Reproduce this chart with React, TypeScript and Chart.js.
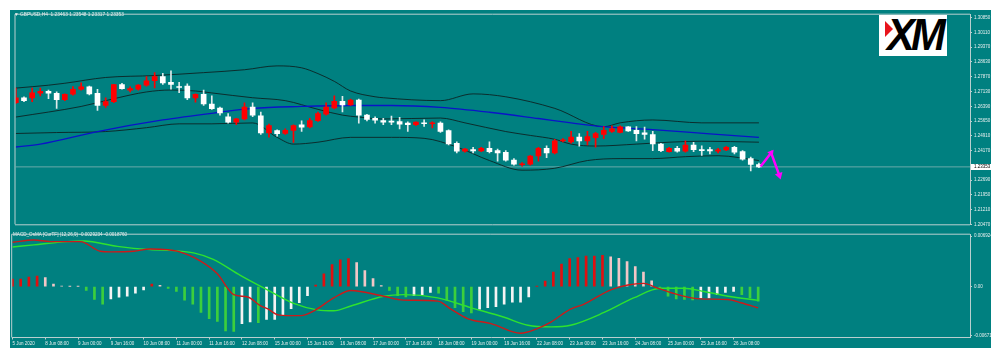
import React, { useEffect, useRef } from "react";
import { Chart, registerables } from "chart.js";

Chart.register(...registerables);

// ---------- DATA ----------
const opens = [
  1.2658, 1.2682, 1.2682, 1.2705, 1.2715, 1.2705, 1.2673, 1.27, 1.2725, 1.2737,
  1.2705, 1.2644, 1.2663, 1.2749, 1.272, 1.2725, 1.2746, 1.2768, 1.2789, 1.276,
  1.2737, 1.2741, 1.2682, 1.27, 1.2651, 1.2631, 1.2587, 1.256, 1.2576, 1.2635,
  1.2592, 1.2506, 1.2518, 1.2503, 1.2519, 1.2547, 1.2536, 1.2568, 1.26, 1.2632,
  1.2665, 1.2647, 1.2671, 1.2595, 1.2579, 1.2568, 1.2562, 1.2563, 1.2555, 1.2547,
  1.2555, 1.2552, 1.2555, 1.2518, 1.2454, 1.2414, 1.2422, 1.2416, 1.2429, 1.2417,
  1.2409, 1.2369, 1.2346, 1.2349, 1.239, 1.2429, 1.2406, 1.2466, 1.2461, 1.2485,
  1.2466, 1.2482, 1.2498, 1.2514, 1.2509, 1.2536, 1.2519, 1.2506, 1.2498, 1.245,
  1.2412, 1.2429, 1.2414, 1.2445, 1.2422, 1.2422, 1.2414, 1.2421, 1.2434, 1.2412,
  1.2377, 1.23463,
];
const highs = [
  1.2731, 1.2687, 1.2731, 1.2731, 1.2721, 1.2712, 1.2702, 1.2738, 1.2758, 1.2741,
  1.2725, 1.2682, 1.275, 1.2755, 1.2737, 1.2749, 1.2789, 1.2809, 1.2805, 1.2818,
  1.276, 1.2752, 1.2702, 1.2721, 1.2692, 1.2635, 1.2603, 1.2579, 1.2657, 1.2657,
  1.2611, 1.255, 1.2522, 1.2527, 1.2547, 1.2566, 1.2579, 1.2611, 1.2657, 1.2692,
  1.2689, 1.2676, 1.2676, 1.2599, 1.2587, 1.2579, 1.259, 1.2584, 1.2562, 1.2562,
  1.2571, 1.2562, 1.2562, 1.2522, 1.2461, 1.2429, 1.2434, 1.2434, 1.2461, 1.2425,
  1.2417, 1.2377, 1.2357, 1.2393, 1.2434, 1.2441, 1.2474, 1.2477, 1.2514, 1.2503,
  1.2514, 1.2509, 1.2538, 1.2542, 1.2542, 1.2538, 1.2538, 1.2535, 1.2514, 1.2453,
  1.2434, 1.2439, 1.2466, 1.2458, 1.2441, 1.2434, 1.2429, 1.2439, 1.2439, 1.2417,
  1.2385, 1.23548,
];
const lows = [
  1.2653, 1.2663, 1.2663, 1.2692, 1.2678, 1.2629, 1.2668, 1.2696, 1.2721, 1.2697,
  1.2619, 1.2634, 1.2658, 1.2725, 1.2712, 1.2721, 1.2741, 1.2732, 1.2749, 1.2725,
  1.2708, 1.2673, 1.266, 1.2644, 1.2624, 1.2595, 1.2555, 1.2547, 1.2571, 1.2587,
  1.2498, 1.2485, 1.249, 1.2498, 1.2458, 1.2514, 1.2531, 1.2563, 1.2595, 1.2627,
  1.2611, 1.2644, 1.2555, 1.2566, 1.2555, 1.2547, 1.2547, 1.2526, 1.2514, 1.2542,
  1.2538, 1.2531, 1.2509, 1.2445, 1.2406, 1.2409, 1.2406, 1.2412, 1.2406, 1.2364,
  1.2364, 1.2344, 1.2339, 1.2344, 1.2364, 1.2382, 1.2401, 1.2461, 1.2455, 1.2439,
  1.2445, 1.2434, 1.2477, 1.2509, 1.2506, 1.2514, 1.2466, 1.2474, 1.2417, 1.2412,
  1.2409, 1.2409, 1.2409, 1.2412, 1.2393, 1.2401, 1.2406, 1.2417, 1.2401, 1.2369,
  1.2315, 1.23317,
];
const closes = [
  1.2682, 1.2668, 1.2707, 1.2715, 1.2705, 1.2673, 1.27, 1.2725, 1.2737, 1.2702,
  1.2644, 1.2663, 1.2749, 1.2728, 1.2728, 1.2746, 1.2768, 1.2789, 1.2757, 1.2749,
  1.2734, 1.2682, 1.27, 1.2651, 1.2628, 1.2606, 1.256, 1.2576, 1.2635, 1.2595,
  1.2506, 1.2543, 1.2502, 1.2519, 1.2543, 1.2535, 1.2568, 1.2603, 1.2635, 1.2665,
  1.2647, 1.2671, 1.2595, 1.2574, 1.257, 1.256, 1.256, 1.255, 1.2547, 1.256,
  1.2552, 1.2555, 1.2514, 1.245, 1.2414, 1.2425, 1.2416, 1.2429, 1.2412, 1.2406,
  1.2369, 1.2349, 1.2351, 1.239, 1.2429, 1.2405, 1.2466, 1.247, 1.2485, 1.2466,
  1.2487, 1.2503, 1.2519, 1.2527, 1.2536, 1.2516, 1.2502, 1.2498, 1.245, 1.2417,
  1.2429, 1.2414, 1.2445, 1.2422, 1.2417, 1.2416, 1.2421, 1.2434, 1.2409, 1.2374,
  1.2348, 1.23353,
];

const upperIdx = [0, 4, 6, 11, 17, 23, 28, 32, 35, 37, 39, 41, 44, 45, 52, 56, 60, 66, 72, 74, 78, 84, 91];
const upperVal = [1.2731, 1.27455, 1.27552, 1.27843, 1.2794, 1.28086, 1.28231, 1.28425, 1.28328, 1.28037, 1.27649, 1.27164, 1.26873, 1.26825, 1.26679, 1.27019, 1.26873, 1.26291, 1.2537, 1.25564, 1.25709, 1.25564, 1.25564];

const midIdx = [0, 8, 12, 16, 19, 22, 24, 29, 33, 37, 40, 42, 45, 52, 55, 60, 63, 66, 68, 71, 76, 80, 84, 91];
const midVal = [1.25855, 1.26388, 1.26776, 1.27116, 1.27213, 1.27164, 1.27067, 1.26825, 1.26679, 1.26243, 1.25952, 1.25855, 1.25758, 1.25806, 1.25564, 1.25127, 1.24933, 1.24739, 1.24496, 1.244, 1.24496, 1.24593, 1.24642, 1.24593];

const lowerIdx = [0, 5, 11, 16, 20, 24, 29, 32, 34, 37, 41, 46, 50, 54, 58, 62, 66, 70, 74, 78, 82, 86, 91];
const lowerVal = [1.2503, 1.25078, 1.25127, 1.25321, 1.25515, 1.25515, 1.2556, 1.24836, 1.24496, 1.24593, 1.24836, 1.24836, 1.24787, 1.24351, 1.23672, 1.23187, 1.23284, 1.23672, 1.23769, 1.23769, 1.23866, 1.23914, 1.23672];

const maIdx = [0, 3, 10, 18, 25, 29, 35, 41, 46, 52, 58, 64, 68, 72, 78, 85, 91];
const maVal = [1.24351, 1.24496, 1.25127, 1.25709, 1.26097, 1.26291, 1.26388, 1.26436, 1.26436, 1.2634, 1.26097, 1.25782, 1.25564, 1.2537, 1.25224, 1.25015, 1.24836];

const lastPrice = 1.23353;
const arrowIdx = [91.2, 92.5, 93.5];
const arrowVal = [1.23367, 1.2406, 1.2293];

const priceTicks = [1.3085, 1.3011, 1.2937, 1.2863, 1.2787, 1.2713, 1.2639, 1.2565, 1.2491, 1.2417, 1.2269, 1.2195, 1.2121, 1.2047];

const osma = [
  0.00102, 0.00102, 0.00132, 0.00146, 0.00123, 0.00036, 0.00009, 0.00004, 0.00003, -0.00053,
  -0.00176, -0.00242, -0.00168, -0.00146, -0.00132, -0.00089, -0.00044, 0.00036, 0.00017, -0.00023,
  -0.00066, -0.00185, -0.00242, -0.00354, -0.00441, -0.00477, -0.00609, -0.00613, -0.00507, -0.00483,
  -0.00494, -0.0045, -0.0045, -0.00397, -0.00301, -0.00221, -0.00123, 0.00023, 0.00176, 0.00301,
  0.00367, 0.00384, 0.00331, 0.00221, 0.0011, 0.00013, -0.00053, -0.00123, -0.00142, -0.00123,
  -0.0011, -0.00079, -0.00089, -0.00185, -0.00287, -0.00344, -0.00361, -0.00308, -0.00287, -0.00274,
  -0.00242, -0.00212, -0.00212, -0.00142, 0.00004, 0.00075, 0.00199, 0.00308, 0.00384, 0.00397,
  0.0042, 0.0042, 0.00428, 0.0041, 0.00388, 0.00344, 0.00274, 0.00199, 0.00079, -0.00013,
  -0.00132, -0.00168, -0.00176, -0.00181, -0.00155, -0.00155, -0.0011, -0.00079, -0.00066, -0.0011,
  -0.00155, -0.00199,
];

const macdIdx = [0, 2.6, 4.6, 8.3, 10.7, 12, 14.8, 16.8, 18.9, 20.1, 22.9, 25, 27, 28.7, 30.3, 31.1, 32.4, 33.6, 35.2, 36.8, 39.2, 41.3, 45.3, 47.7, 51.9, 53.5, 55.6, 58.4, 62, 64.1, 65.7, 68.1, 69.7, 73, 75.1, 77, 78.8, 81.2, 84, 87.3, 88.9, 91];
const macdVal = [0.00609, 0.00639, 0.00618, 0.00618, 0.00486, 0.00477, 0.00486, 0.00516, 0.00507, 0.00486, 0.00354, 0.00176, -0.0011, -0.00142, -0.00265, -0.00301, -0.00388, -0.00397, -0.00397, -0.00331, -0.00155, -0.00053, -0.00132, -0.00185, -0.00199, -0.00308, -0.00441, -0.00507, -0.00639, -0.00573, -0.00486, -0.00308, -0.00242, -0.00044, 0.00023, 0.00044, -0.00023, -0.0011, -0.00168, -0.00176, -0.00221, -0.00292];

const signalIdx = [0, 2.6, 6.7, 8.7, 12.8, 16.8, 19.7, 22.1, 24.5, 27.8, 31.1, 34.3, 37.2, 39.2, 41.3, 45.3, 47.7, 51.9, 55.9, 60, 62.9, 65.7, 68.1, 72.2, 75.8, 79.1, 81.9, 84.4, 87.3, 91];
const signalVal = [0.00543, 0.00573, 0.00618, 0.00626, 0.00552, 0.00507, 0.00494, 0.00463, 0.00375, 0.00155, -0.00044, -0.00229, -0.00318, -0.00331, -0.00265, -0.00132, -0.0011, -0.00155, -0.00287, -0.0042, -0.0053, -0.00552, -0.0053, -0.00354, -0.00155, -0.00023, -0.00023, -0.00066, -0.00132, -0.00188];

const macdTicks = [0.006924, 0, -0.006716];
const macdTickLabels = ["0.006924", "0.00", "-0.006716"];

const timeBars = [0, 4, 8, 12, 16, 20, 24, 28, 32, 36, 40, 44, 48, 52, 56, 60, 64, 68, 72, 76, 80, 84, 88];
const timeLabels = [
  "5 Jun 2020", "8 Jun 08:00", "9 Jun 00:00", "9 Jun 16:00", "10 Jun 08:00", "11 Jun 00:00",
  "11 Jun 16:00", "12 Jun 08:00", "15 Jun 00:00", "15 Jun 16:00", "16 Jun 08:00", "17 Jun 00:00",
  "17 Jun 16:00", "18 Jun 08:00", "19 Jun 00:00", "19 Jun 16:00", "22 Jun 08:00", "23 Jun 00:00",
  "23 Jun 16:00", "24 Jun 08:00", "25 Jun 00:00", "25 Jun 16:00", "26 Jun 08:00",
];

const headerText = "GBPUSD,H4  1.23463 1.23548 1.23317 1.23353";
const macdHeader = "MACD_OsMA [CurTF] (12,26,9) -0.0029234 -0.0018760";

// ---------- STYLE ----------
const TEAL = "#008080";
const FRAME = "#b9cfcf";
const TXT = "#e6eeee";
const FONT = "'Liberation Sans', Arial, sans-serif";
const UP = "#ff0000";
const DOWN = "#ffffff";
const BAND = "rgba(12,36,36,0.9)";
const X_MIN = -0.04;
const X_MAX = 116.85;

function pts(idx: number[], vals: number[]) {
  return idx.map((x, k) => ({ x, y: vals[k] }));
}

function framePlugin(drawBottom: boolean) {
  return {
    id: "paneFrame",
    afterDraw(chart: any) {
      const { ctx, chartArea: a } = chart;
      ctx.save();
      ctx.strokeStyle = FRAME;
      ctx.lineWidth = 1;
      ctx.beginPath();
      ctx.moveTo(a.left - 0.5, a.top - 0.5);
      ctx.lineTo(a.right, a.top - 0.5);
      ctx.moveTo(a.left - 0.5, a.top - 0.5);
      ctx.lineTo(a.left - 0.5, a.bottom);
      if (drawBottom) {
        ctx.moveTo(a.left - 0.5, a.bottom + 0.5);
        ctx.lineTo(a.right, a.bottom + 0.5);
      }
      ctx.stroke();
      ctx.restore();
    },
  };
}

const lastPricePlugin = {
  id: "lastPriceTag",
  afterDraw(chart: any) {
    const { ctx, chartArea: a, scales } = chart;
    const y = scales.y.getPixelForValue(lastPrice);
    ctx.save();
    ctx.fillStyle = "#ffffff";
    ctx.fillRect(a.right + 1, Math.round(y) - 3, 22, 6);
    ctx.fillStyle = "#000000";
    ctx.font = `4.5px ${FONT}`;
    ctx.textBaseline = "middle";
    ctx.fillText(lastPrice.toFixed(5), a.right + 4, y);
    ctx.restore();
  },
};

export default function App() {
  const topRef = useRef<HTMLCanvasElement>(null);
  const botRef = useRef<HTMLCanvasElement>(null);

  useEffect(() => {
    const candleColors = opens.map((o, i) => (closes[i] >= o ? UP : DOWN));
    const wickColors = opens.map((o, i) => (closes[i] >= o ? UP : "#e0eaea"));

    const top = new Chart(topRef.current as HTMLCanvasElement, {
      type: "bar",
      data: {
        datasets: [
          {
            type: "line",
            data: pts(arrowIdx, arrowVal),
            borderColor: "#ff00ff",
            backgroundColor: "#ff00ff",
            borderWidth: 2.5,
            pointRadius: [0, 4, 4.5],
            pointStyle: "triangle",
            pointRotation: [0, 38, 163],
            pointBorderWidth: 0,
            order: 0,
          } as any,
          {
            data: opens.map((o, i) => ({ x: i, y: [o, closes[i]] })),
            backgroundColor: candleColors,
            barThickness: 5,
            grouped: false,
            minBarLength: 1,
            order: 1,
          },
          {
            data: opens.map((o, i) => ({ x: i, y: [lows[i], highs[i]] })),
            backgroundColor: wickColors,
            barThickness: 1,
            grouped: false,
            minBarLength: 1,
            order: 2,
          },
          {
            type: "line",
            data: pts(maIdx, maVal),
            borderColor: "#0a14c8",
            borderWidth: 1.3,
            pointRadius: 0,
            cubicInterpolationMode: "monotone",
            order: 3,
          } as any,
          {
            type: "line",
            data: pts(upperIdx, upperVal),
            borderColor: BAND,
            borderWidth: 1,
            pointRadius: 0,
            cubicInterpolationMode: "monotone",
            order: 4,
          } as any,
          {
            type: "line",
            data: pts(midIdx, midVal),
            borderColor: BAND,
            borderWidth: 1,
            pointRadius: 0,
            cubicInterpolationMode: "monotone",
            order: 4,
          } as any,
          {
            type: "line",
            data: pts(lowerIdx, lowerVal),
            borderColor: BAND,
            borderWidth: 1,
            pointRadius: 0,
            cubicInterpolationMode: "monotone",
            order: 4,
          } as any,
          {
            type: "line",
            data: [
              { x: X_MIN, y: lastPrice },
              { x: X_MAX, y: lastPrice },
            ],
            borderColor: "rgba(190,205,205,0.55)",
            borderWidth: 1,
            pointRadius: 0,
            order: 9,
          } as any,
        ],
      },
      options: {
        animation: false,
        responsive: false,
        maintainAspectRatio: false,
        events: [],
        layout: { padding: { left: 1, top: 1, right: 0, bottom: 1 } },
        plugins: { legend: { display: false }, tooltip: { enabled: false } },
        scales: {
          x: {
            type: "linear",
            min: X_MIN,
            max: X_MAX,
            offset: false,
            display: false,
            grid: { display: false, offset: false },
          },
          y: {
            type: "linear",
            position: "right",
            min: 1.2047,
            max: 1.30995,
            afterFit(s: any) {
              s.width = 21;
            },
            afterBuildTicks(s: any) {
              s.ticks = priceTicks.map((v) => ({ value: v }));
            },
            ticks: {
              autoSkip: false,
              color: TXT,
              padding: 2,
              font: { size: 4.5, family: FONT },
              callback: (v: any) => Number(v).toFixed(5),
            },
            grid: { drawOnChartArea: false, drawTicks: true, tickLength: 2, color: FRAME },
            border: { display: true, color: FRAME },
          },
        },
      } as any,
      plugins: [framePlugin(true), lastPricePlugin],
    });

    const histColors = osma.map((v, i) => {
      const prev = i === 0 ? v : osma[i - 1];
      if (v >= 0) return v >= prev ? "#e01010" : "#f2c6c6";
      return v >= prev ? "#f4f4f4" : "#3ccf3c";
    });

    const bot = new Chart(botRef.current as HTMLCanvasElement, {
      type: "bar",
      data: {
        datasets: [
          {
            type: "line",
            data: pts(macdIdx, macdVal),
            borderColor: "#cc1a1a",
            borderWidth: 1.4,
            pointRadius: 0,
            cubicInterpolationMode: "monotone",
            order: 0,
          } as any,
          {
            type: "line",
            data: pts(signalIdx, signalVal),
            borderColor: "#2ee22e",
            borderWidth: 1.4,
            pointRadius: 0,
            cubicInterpolationMode: "monotone",
            order: 1,
          } as any,
          {
            data: osma.map((v, i) => ({ x: i, y: v })),
            backgroundColor: histColors,
            barThickness: 2,
            grouped: false,
            order: 2,
          },
        ],
      },
      options: {
        animation: false,
        responsive: false,
        maintainAspectRatio: false,
        events: [],
        layout: { padding: { left: 1, top: 1, right: 0, bottom: 0 } },
        plugins: { legend: { display: false }, tooltip: { enabled: false } },
        scales: {
          x: {
            type: "linear",
            min: X_MIN,
            max: X_MAX,
            offset: false,
            afterFit(s: any) {
              s.height = 10.5;
            },
            afterBuildTicks(s: any) {
              s.ticks = timeBars.map((v) => ({ value: v }));
            },
            ticks: {
              autoSkip: false,
              maxRotation: 0,
              minRotation: 0,
              align: "start",
              padding: 1.5,
              color: TXT,
              font: { size: 4.5, family: FONT },
              callback: (_v: any, idx: number) => timeLabels[idx],
            },
            grid: { drawOnChartArea: false, drawTicks: true, tickLength: 2, color: FRAME, offset: false },
            border: { display: true, color: FRAME },
          },
          y: {
            type: "linear",
            position: "right",
            min: -0.006977,
            max: 0.007123,
            afterFit(s: any) {
              s.width = 21;
            },
            afterBuildTicks(s: any) {
              s.ticks = macdTicks.map((v) => ({ value: v }));
            },
            ticks: {
              autoSkip: false,
              color: TXT,
              padding: 2,
              font: { size: 4.5, family: FONT },
              callback: (_v: any, idx: number) => macdTickLabels[idx],
            },
            grid: { drawOnChartArea: false, drawTicks: true, tickLength: 2, color: FRAME },
            border: { display: true, color: FRAME },
          },
        },
      } as any,
      plugins: [framePlugin(false)],
    });

    return () => {
      top.destroy();
      bot.destroy();
    };
  }, []);

  const textStyle: React.CSSProperties = {
    position: "absolute",
    fontFamily: FONT,
    fontSize: "4.8px",
    lineHeight: "6px",
    color: TXT,
    whiteSpace: "pre",
  };

  return (
    <div style={{ position: "absolute", left: 0, top: 0, width: 1000, height: 361, background: "#ffffff", overflow: "hidden" }}>
      <div style={{ position: "absolute", left: 10, top: 10, width: 981, height: 338, background: TEAL }} />
      <canvas
        ref={topRef}
        width={980}
        height={219}
        style={{ position: "absolute", left: 11, top: 10, width: 980, height: 219 }}
      />
      <canvas
        ref={botRef}
        width={980}
        height={118}
        style={{ position: "absolute", left: 11, top: 230, width: 980, height: 118 }}
      />
      <div style={{ ...textStyle, left: 14, top: 11.5 }}>{"\u25BC " + headerText}</div>
      <div style={{ ...textStyle, left: 13, top: 231.5, fontSize: "4.6px" }}>{macdHeader}</div>
      <div
        style={{
          position: "absolute",
          left: 879,
          top: 15,
          width: 68,
          height: 41,
          background: "#ffffff",
          overflow: "hidden",
        }}
      >
        <div
          style={{
            position: "absolute",
            left: 6,
            top: 6,
            width: 0,
            height: 0,
            borderTop: "8px solid transparent",
            borderBottom: "8px solid transparent",
            borderLeft: "8px solid #e8141c",
          }}
        />
        <div
          style={{
            position: "absolute",
            left: 8,
            top: -4,
            fontFamily: FONT,
            fontSize: "44px",
            fontWeight: 900,
            fontStyle: "italic",
            letterSpacing: "-4px",
            color: "#000000",
            lineHeight: "48px",
            transform: "scaleX(0.95)",
            transformOrigin: "left top",
          }}
        >
          XM
        </div>
      </div>
    </div>
  );
}
